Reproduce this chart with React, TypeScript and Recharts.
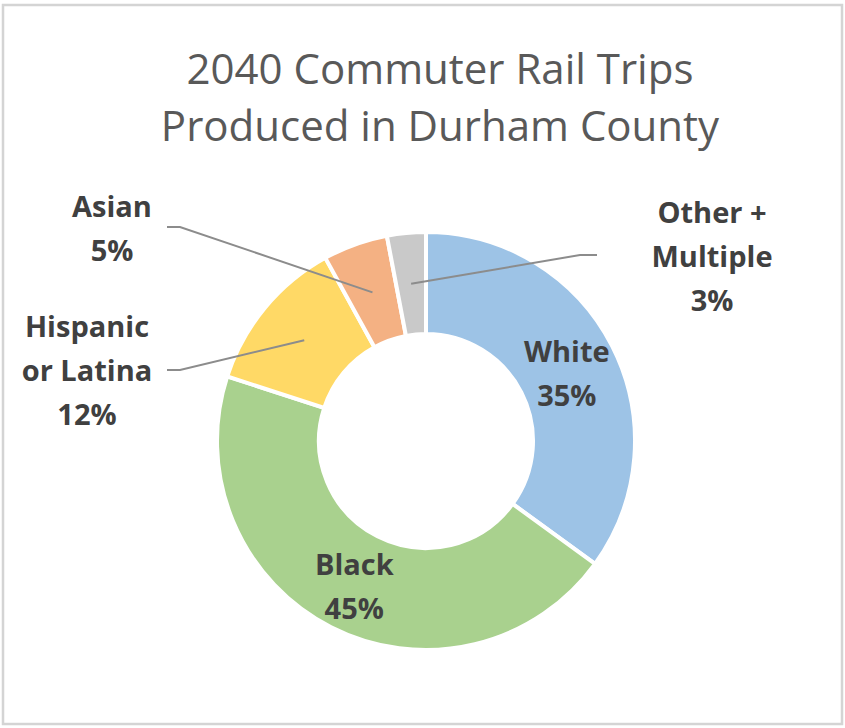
import { PieChart, Pie, Cell } from "recharts"

const categories = ["White", "Black", "Hispanic or Latina", "Asian", "Other + Multiple"]
const shares = [35, 45, 12, 5, 3]
const colors = ["#9DC3E6", "#A9D18E", "#FFD966", "#F4B183", "#C9C9C9"]
const titleLines = ["2040 Commuter Rail Trips", "Produced in Durham County"]

const data = categories.map((name, i) => ({ name, value: shares[i] }))

// how each category label is broken into lines
const nameLines: Record<string, string[]> = {
  "Hispanic or Latina": ["Hispanic", "or Latina"],
  "Other + Multiple": ["Other +", "Multiple"]
}

// outside labels: offsets from the pie centre for the leader elbow/end and the text
const outside: Record<string, { elbow: [number, number]; end: [number, number]; text: [number, number] }> = {
  "Hispanic or Latina": { elbow: [-246, -71], end: [-259, -71], text: [-339, -104] },
  "Asian": { elbow: [-246, -214], end: [-259, -214], text: [-314, -224] },
  "Other + Multiple": { elbow: [154, -186], end: [171, -186], text: [286, -218] }
}

const LINE_H = 44
const labelFont = { fontFamily: "'Open Sans', sans-serif", fontSize: 29, fontWeight: 700, fill: "#404040" }

const renderLabel = ({ cx, cy, midAngle, innerRadius, outerRadius, percent, name }: any) => {
  const RADIAN = Math.PI / 180
  const r = (innerRadius + outerRadius) / 2
  const mx = cx + r * Math.cos(-midAngle * RADIAN)
  const my = cy + r * Math.sin(-midAngle * RADIAN)
  const lines = [...(nameLines[name] || [name]), `${Math.round(percent * 100)}%`]
  const cfg = outside[name]

  if (!cfg) {
    const top = my - 7 - ((lines.length - 2) * LINE_H) / 2
    return (
      <text x={mx} y={top} textAnchor="middle" {...labelFont}>
        {lines.map((l, i) => (
          <tspan key={i} x={mx} y={top + i * LINE_H}>{l}</tspan>
        ))}
      </text>
    )
  }

  const tx = cx + cfg.text[0]
  const ty = cy + cfg.text[1]
  return (
    <g>
      <polyline
        points={`${mx},${my} ${cx + cfg.elbow[0]},${cy + cfg.elbow[1]} ${cx + cfg.end[0]},${cy + cfg.end[1]}`}
        fill="none"
        stroke="#8C8C8C"
        strokeWidth={2}
      />
      <text x={tx} y={ty} textAnchor="middle" {...labelFont}>
        {lines.map((l, i) => (
          <tspan key={i} x={tx} y={ty + i * LINE_H}>{l}</tspan>
        ))}
      </text>
    </g>
  )
}

export default function App() {
  return (
    <div style={{ position: "absolute", left: 0, top: 0, width: 845, height: 728, background: "#fff" }}>
      <svg width={845} height={728} style={{ position: "absolute", left: 0, top: 0 }}>
        <rect x={3} y={5} width={839} height={719} fill="#fff" stroke="#D4D4D4" strokeWidth={2.5} />
        {titleLines.map((t, i) => (
          <text
            key={i}
            x={440}
            y={84 + i * 57}
            textAnchor="middle"
            fontFamily="'Open Sans', sans-serif"
            fontSize={42}
            fill="#595959"
          >
            {t}
          </text>
        ))}
      </svg>
      <div style={{ position: "absolute", left: 0, top: 0 }}>
        <PieChart width={845} height={728} margin={{ top: 0, right: 0, bottom: 0, left: 0 }}>
          <Pie
            data={data}
            dataKey="value"
            nameKey="name"
            cx={426}
            cy={441}
            innerRadius={107}
            outerRadius={209}
            startAngle={90}
            endAngle={-270}
            stroke="#fff"
            strokeWidth={4}
            labelLine={false}
            label={renderLabel}
            isAnimationActive={false}
          >
            {data.map((d, i) => (
              <Cell key={d.name} fill={colors[i]} />
            ))}
          </Pie>
        </PieChart>
      </div>
    </div>
  )
}
